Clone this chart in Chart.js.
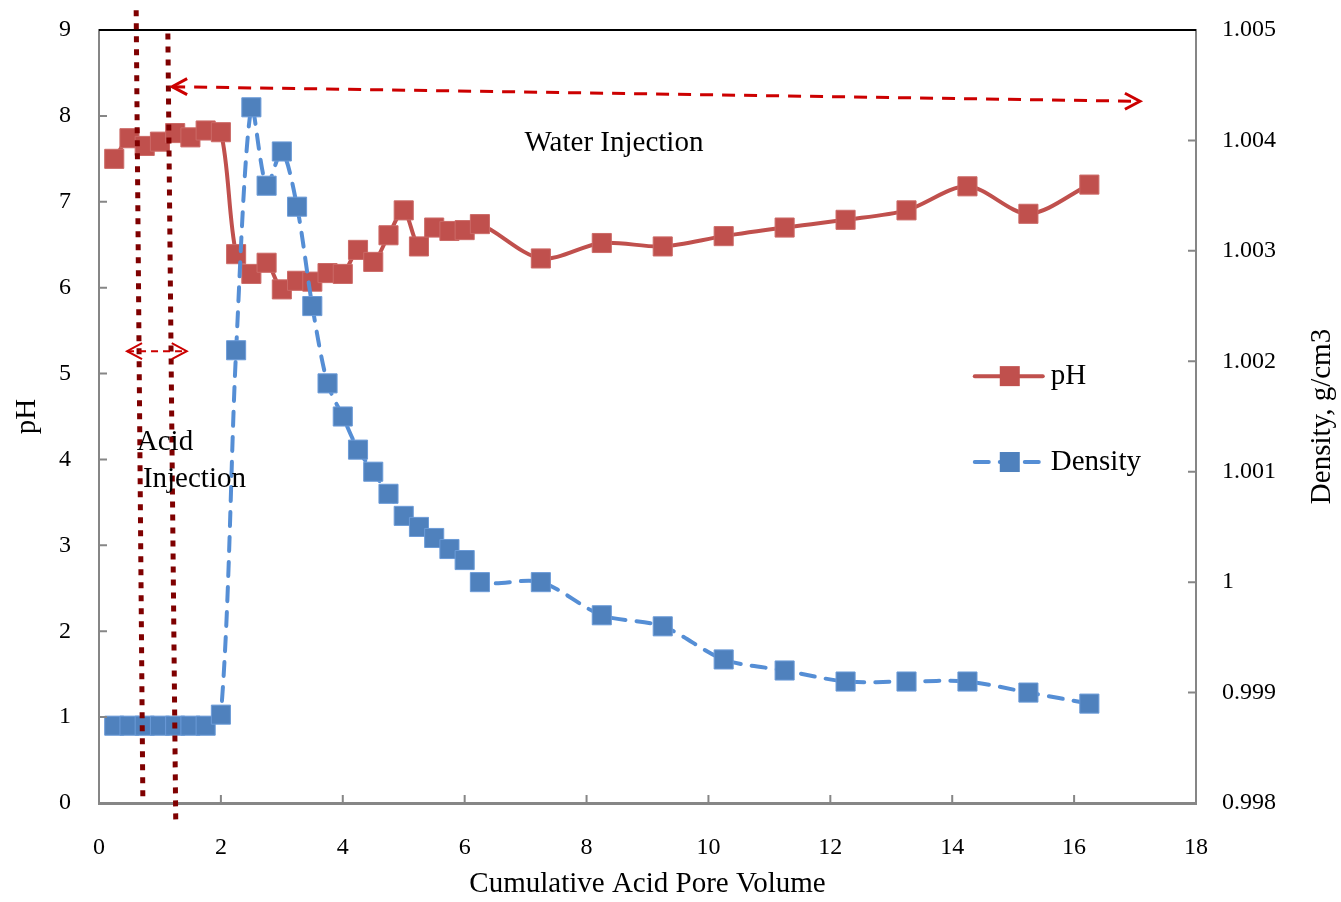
<!DOCTYPE html>
<html>
<head>
<meta charset="utf-8">
<script src="https://cdn.jsdelivr.net/npm/chart.js@4.4.1/dist/chart.umd.min.js"></script>
<style>
  html, body { margin: 0; padding: 0; background: #fff; }
</style>
</head>
<body>
<canvas id="myChart" width="1341" height="902"></canvas>
<script>
// cumulative acid pore volume (x)
const poreVolume = [0.25, 0.5, 0.75, 1.0, 1.25, 1.5, 1.75, 2.0, 2.25, 2.5, 2.75, 3.0, 3.25, 3.5, 3.75,
  4.0, 4.25, 4.5, 4.75, 5.0, 5.25, 5.5, 5.75, 6.0, 6.25, 7.25, 8.25, 9.25, 10.25, 11.25, 12.25,
  13.25, 14.25, 15.25, 16.25];
const phValues = [7.5, 7.74, 7.65, 7.7, 7.8, 7.75, 7.83, 7.81, 6.39, 6.16, 6.29, 5.98, 6.08, 6.07, 6.17,
  6.16, 6.44, 6.3, 6.61, 6.9, 6.48, 6.7, 6.66, 6.67, 6.74, 6.34, 6.52, 6.48, 6.6, 6.7, 6.79,
  6.9, 7.18, 6.86, 7.2];
const densityValues = [0.9987, 0.9987, 0.9987, 0.9987, 0.9987, 0.9987, 0.9987, 0.9988, 1.0021, 1.0043,
  1.00359, 1.0039, 1.0034, 1.0025, 1.0018, 1.0015, 1.0012, 1.0010, 1.0008, 1.0006, 1.0005,
  1.0004, 1.0003, 1.0002, 1.0000, 1.0000, 0.9997, 0.9996, 0.9993, 0.9992, 0.9991, 0.9991,
  0.9991, 0.9990, 0.9989];

// axis ranges
const xRange = [0, 18, 2];
const phRange = [0, 9, 1];
const densityRange = [0.998, 1.005, 0.001];

// annotation positions in data units (x = pore volume, y = pH)
const dividerLines = [[0.61, 9.23, 0.72, 0], [1.13, 8.96, 1.26, -0.26]];
const waterArrow = [1.2, 8.34, 17.08, 8.17];
const acidArrow = [0.46, 5.26, 1.44, 5.26];

const FONT = '"Liberation Serif", "Times New Roman", serif';
const AXIS_GREY = '#868686';

const pointsOf = (ys) => poreVolume.map((x, i) => ({ x, y: ys[i] }));

function arrowHead(ctx, x, y, dir) {
	ctx.beginPath();
	ctx.moveTo(x + dir * 15, y - 8);
	ctx.lineTo(x, y);
	ctx.lineTo(x + dir * 15, y + 8);
	ctx.stroke();
}

function dashedArrow(ctx, sx, sy, ex, ey, width, dash) {
	ctx.lineWidth = width;
	ctx.setLineDash(dash);
	ctx.beginPath();
	ctx.moveTo(sx, sy);
	ctx.lineTo(ex, ey);
	ctx.stroke();
	ctx.setLineDash([]);
	arrowHead(ctx, sx, sy, 1);
	arrowHead(ctx, ex, ey, -1);
}

// no automatic label overhang, the layout padding decides the frame
function noOverhang(s) {
	s.paddingTop = 0;
	s.paddingBottom = 0;
	s.paddingLeft = 0;
	s.paddingRight = 0;
}

const extras = {
	id: "extras",
	afterDatasetsDraw(chart) {
		const { ctx, chartArea: area, scales } = chart;
		const x = scales.x, y = scales.y, y1 = scales.y1;
		ctx.save();

		// inward tick marks and frame
		ctx.strokeStyle = AXIS_GREY;
		ctx.lineWidth = 2;
		ctx.beginPath();
		x.ticks.forEach((t) => {
			const px = x.getPixelForValue(t.value);
			ctx.moveTo(px, area.bottom);
			ctx.lineTo(px, area.bottom - 8);
		});
		y.ticks.forEach((t) => {
			const py = y.getPixelForValue(t.value);
			ctx.moveTo(area.left, py);
			ctx.lineTo(area.left + 8, py);
		});
		y1.ticks.forEach((t) => {
			const py = y1.getPixelForValue(t.value);
			ctx.moveTo(area.right, py);
			ctx.lineTo(area.right - 8, py);
		});
		ctx.stroke();
		ctx.strokeStyle = "#000";
		ctx.beginPath();
		ctx.moveTo(area.left, area.top);
		ctx.lineTo(area.right, area.top);
		ctx.stroke();

		// acid injection boundaries
		ctx.strokeStyle = "#7F0000";
		ctx.lineWidth = 5;
		ctx.setLineDash([6, 7]);
		dividerLines.forEach(([x0, v0, x1, v1]) => {
			ctx.beginPath();
			ctx.moveTo(x.getPixelForValue(x0), y.getPixelForValue(v0));
			ctx.lineTo(x.getPixelForValue(x1), y.getPixelForValue(v1));
			ctx.stroke();
		});

		// arrows
		ctx.strokeStyle = "#CC0000";
		ctx.lineCap = "butt";
		dashedArrow(ctx, x.getPixelForValue(waterArrow[0]), y.getPixelForValue(waterArrow[1]),
			x.getPixelForValue(waterArrow[2]), y.getPixelForValue(waterArrow[3]), 3, [13, 9]);
		dashedArrow(ctx, x.getPixelForValue(acidArrow[0]), y.getPixelForValue(acidArrow[1]),
			x.getPixelForValue(acidArrow[2]), y.getPixelForValue(acidArrow[3]), 2, [7, 5]);

		// labels
		ctx.fillStyle = "#000";
		ctx.font = "29px " + FONT;
		ctx.textBaseline = "middle";
		ctx.textAlign = "center";
		ctx.fillText("Water Injection", x.getPixelForValue(8.45), y.getPixelForValue(7.68));
		ctx.textAlign = "left";
		ctx.fillText("Acid", x.getPixelForValue(0.62), y.getPixelForValue(4.2));
		ctx.fillText("Injection", x.getPixelForValue(0.72), y.getPixelForValue(3.77));

		// legend
		const legend = [
			{ label: "pH", ds: chart.data.datasets[1], ly: y.getPixelForValue(4.97) },
			{ label: "Density", ds: chart.data.datasets[0], ly: y.getPixelForValue(3.97) },
		];
		const lx = x.getPixelForValue(14.37);
		legend.forEach((item) => {
			ctx.strokeStyle = item.ds.borderColor;
			ctx.lineWidth = 4;
			ctx.lineCap = "round";
			ctx.setLineDash(item.ds.borderDash || []);
			ctx.beginPath();
			ctx.moveTo(lx, item.ly);
			ctx.lineTo(lx + 68, item.ly);
			ctx.stroke();
			ctx.setLineDash([]);
			ctx.fillStyle = item.ds.pointBackgroundColor;
			ctx.fillRect(lx + 25, item.ly - 10, 20, 20);
			ctx.fillStyle = "#000";
			ctx.fillText(item.label, lx + 76, item.ly);
		});

		// right axis title, reading bottom to top
		ctx.save();
		ctx.translate(1322, (area.top + area.bottom) / 2);
		ctx.rotate(-Math.PI / 2);
		ctx.textAlign = "center";
		ctx.fillText("Density, g/cm3", 0, 0);
		ctx.restore();

		ctx.restore();
	},
};

const tickFont = { family: FONT, size: 24 };
const titleFont = { family: FONT, size: 29 };

new Chart(document.getElementById("myChart"), {
	type: "line",
	data: {
		datasets: [
			{
				label: "Density",
				data: pointsOf(densityValues),
				yAxisID: "y1",
				order: 0,
				borderColor: "#558ED5",
				borderWidth: 4,
				borderDash: [14, 11],
				borderCapStyle: "round",
				pointStyle: "rect",
				pointRadius: 13.5,
				pointBackgroundColor: "#4F81BD",
				pointBorderColor: "#6B9BD8",
				pointBorderWidth: 1,
				tension: 0.3,
			},
			{
				label: "pH",
				data: pointsOf(phValues),
				yAxisID: "y",
				order: 1,
				borderColor: "#C0504D",
				borderWidth: 4,
				pointStyle: "rect",
				pointRadius: 13.5,
				pointBackgroundColor: "#C0504D",
				pointBorderColor: "#CC6A67",
				pointBorderWidth: 1,
				tension: 0.3,
			},
		],
	},
	options: {
		responsive: false,
		animation: false,
		devicePixelRatio: 1,
		layout: { padding: { top: 30, left: 0, right: 0, bottom: 0 } },
		plugins: { legend: { display: false }, tooltip: { enabled: false } },
		scales: {
			x: {
				type: "linear",
				min: xRange[0],
				max: xRange[1],
				ticks: { stepSize: xRange[2], color: "#000", font: tickFont, padding: 22, maxRotation: 0 },
				grid: { display: false },
				border: { color: AXIS_GREY, width: 3 },
				title: { display: true, text: "Cumulative Acid Pore Volume", color: "#000", font: titleFont, padding: { top: 0, bottom: 0 } },
				afterFit: (s) => { s.height = 99; noOverhang(s); },
			},
			y: {
				position: "left",
				min: phRange[0],
				max: phRange[1],
				ticks: { stepSize: phRange[2], color: "#000", font: tickFont, padding: 20 },
				grid: { display: false },
				border: { color: AXIS_GREY, width: 2 },
				title: { display: true, text: "pH", color: "#000", font: titleFont, padding: { top: 10, bottom: 0 } },
				afterFit: (s) => { s.width = 99; noOverhang(s); },
			},
			y1: {
				position: "right",
				min: densityRange[0],
				max: densityRange[1],
				ticks: {
					stepSize: densityRange[2],
					color: "#000",
					font: tickFont,
					padding: 18,
					callback: (v) => String(Number(v.toFixed(4))),
				},
				grid: { display: false },
				border: { color: AXIS_GREY, width: 2 },
				afterFit: (s) => { s.width = 145; noOverhang(s); },
			},
		},
	},
	plugins: [extras],
});
</script>
</body>
</html>
